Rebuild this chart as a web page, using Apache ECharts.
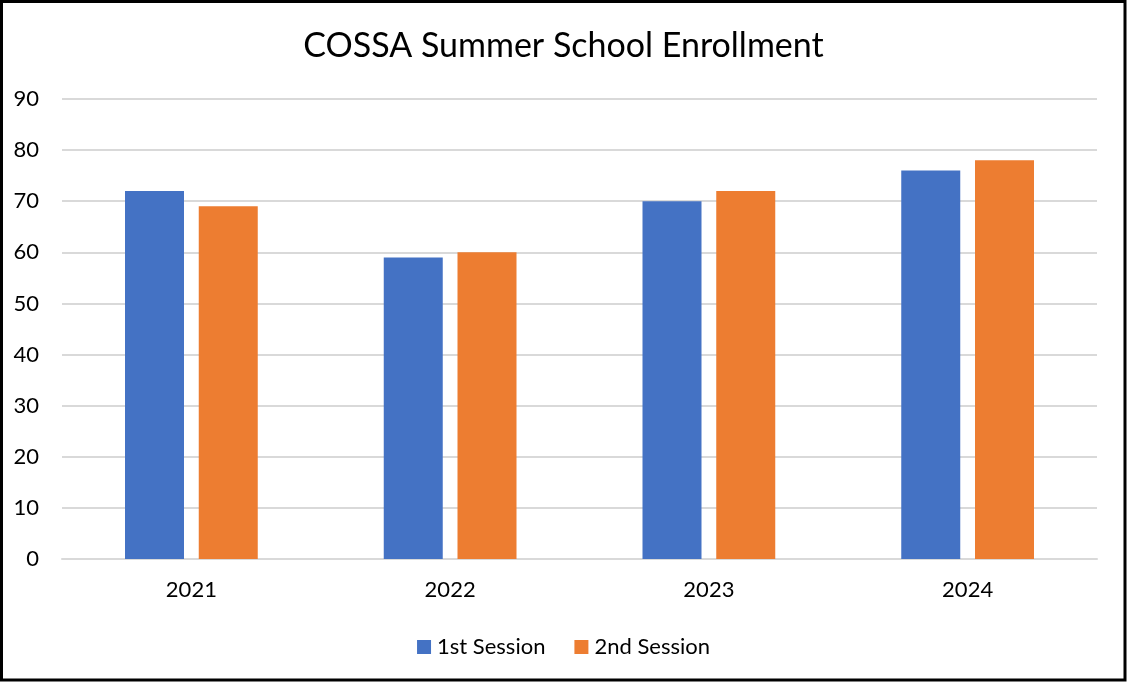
<!DOCTYPE html>
<html>
<head>
<meta charset="utf-8">
<script src="https://cdn.jsdelivr.net/npm/echarts@6/dist/echarts.min.js"></script>
<style>
html,body{margin:0;padding:0;background:#fff;}
#c{width:1127px;height:683px;}
</style>
</head>
<body>
<div id="c"></div>
<script>
const title = 'COSSA Summer School Enrollment';
const categories = ['2021', '2022', '2023', '2024'];
const session1 = [72, 59, 70, 76];
const session2 = [69, 60, 72, 78];
const seriesNames = ['1st Session', '2nd Session'];

const chart = echarts.init(document.getElementById('c'));
const font = 'Lato, "Open Sans", sans-serif';
chart.setOption({
  animation: false,
  backgroundColor: '#fff',
  title: {
    text: title,
    left: 'center',
    top: 24,
    textStyle: {fontFamily: font, fontSize: 34, fontWeight: 'normal', color: '#000'}
  },
  legend: {
    bottom: 20,
    left: 'center',
    itemWidth: 14,
    itemHeight: 14,
    itemGap: 29,
    icon: 'rect',
    textStyle: {fontFamily: font, fontSize: 22, color: '#000', padding: [0,0,0,1]},
    data: seriesNames
  },
  grid: {left: 62, right: 30, top: 99, bottom: 124, containLabel: false},
  xAxis: {
    type: 'category',
    data: categories,
    axisLine: {show: true, lineStyle: {color: '#d9d9d9', width: 2}},
    axisTick: {show: false},
    axisLabel: {fontFamily: font, fontSize: 22, color: '#000', margin: 20}
  },
  yAxis: {
    type: 'value',
    min: 0, max: 90, interval: 10,
    axisLine: {show: false},
    axisTick: {show: false},
    splitLine: {lineStyle: {color: '#d9d9d9', width: 2}},
    axisLabel: {fontFamily: font, fontSize: 22, color: '#000', margin: 23}
  },
  series: [
    {name: seriesNames[0], type: 'bar', data: session1, barWidth: 59, barGap: '25%', itemStyle: {color: '#4472c4'}},
    {name: seriesNames[1], type: 'bar', data: session2, barWidth: 59, barGap: '25%', itemStyle: {color: '#ed7d31'}}
  ],
  graphic: [{
    type: 'rect',
    shape: {x: 1.5, y: 1.5, width: 1123.5, height: 678.5},
    style: {fill: 'none', stroke: '#000', lineWidth: 3},
    silent: true
  }]
});
</script>
</body>
</html>
